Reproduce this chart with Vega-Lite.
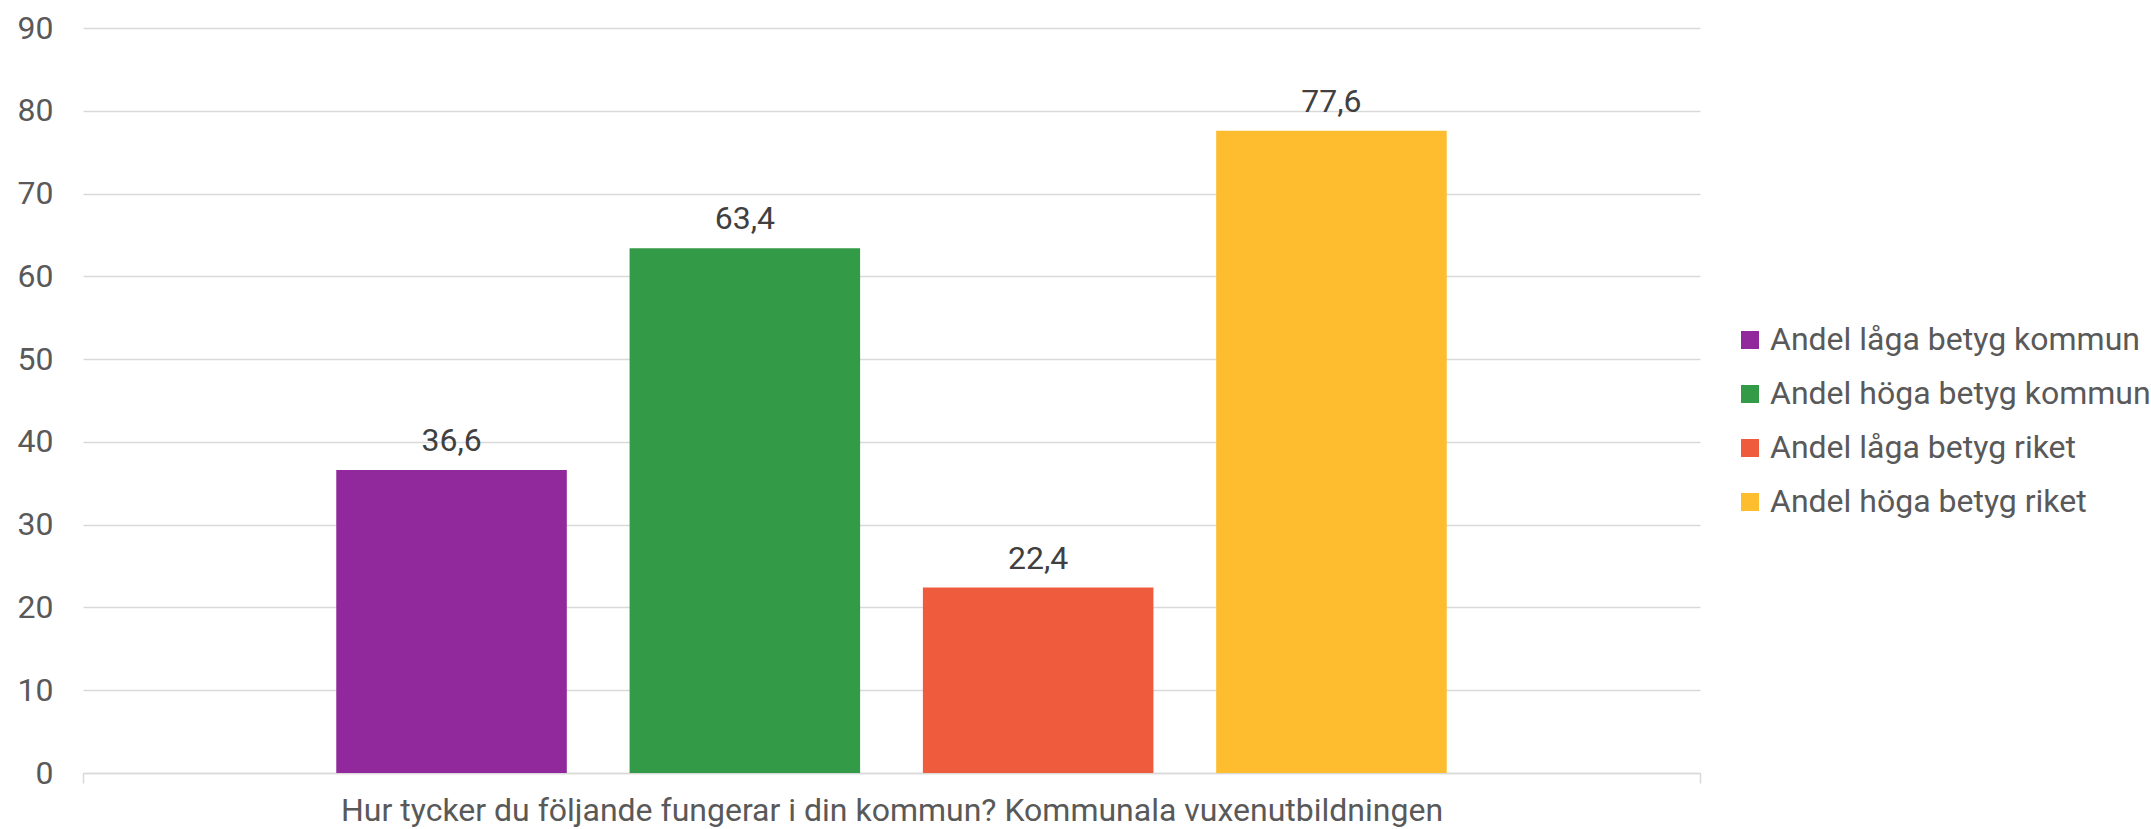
{
  "$schema": "https://vega.github.io/schema/vega-lite/v6.json",
  "autosize": "none",
  "width": 1617,
  "height": 745,
  "padding": {"left": 83, "top": 28, "right": 451, "bottom": 56},
  "background": "white",
  "data": {
    "values": [
      {"question": "Hur tycker du följande fungerar i din kommun? Kommunala vuxenutbildningen", "series": "Andel låga betyg kommun", "value": 36.6, "label": "36,6"},
      {"question": "Hur tycker du följande fungerar i din kommun? Kommunala vuxenutbildningen", "series": "Andel höga betyg kommun", "value": 63.4, "label": "63,4"},
      {"question": "Hur tycker du följande fungerar i din kommun? Kommunala vuxenutbildningen", "series": "Andel låga betyg riket", "value": 22.4, "label": "22,4"},
      {"question": "Hur tycker du följande fungerar i din kommun? Kommunala vuxenutbildningen", "series": "Andel höga betyg riket", "value": 77.6, "label": "77,6"}
    ]
  },
  "config": {
    "font": "Roboto",
    "view": {"stroke": null}
  },
  "encoding": {
    "x": {
      "field": "question",
      "type": "nominal",
      "scale": {"paddingInner": 0, "paddingOuter": 0},
      "axis": {
        "title": null,
        "labelAngle": 0,
        "labelFont": "Roboto",
        "labelFontSize": 32,
        "labelColor": "#595959",
        "labelPadding": 12,
        "labelLimit": 2000,
        "domainColor": "#D9D9D9",
        "domainWidth": 1.5,
        "tickColor": "#D9D9D9",
        "tickWidth": 1.5,
        "tickSize": 10,
        "tickBand": "extent",
        "grid": false
      }
    },
    "xOffset": {
      "field": "series",
      "type": "nominal",
      "sort": ["Andel låga betyg kommun", "Andel höga betyg kommun", "Andel låga betyg riket", "Andel höga betyg riket"],
      "scale": {"paddingInner": 0.214, "paddingOuter": 0.8635}
    },
    "y": {
      "field": "value",
      "type": "quantitative",
      "scale": {"domain": [0, 90], "nice": false},
      "axis": {
        "title": null,
        "values": [0, 10, 20, 30, 40, 50, 60, 70, 80, 90],
        "labelFont": "Roboto",
        "labelFontSize": 32,
        "labelColor": "#595959",
        "labelPadding": 30,
        "ticks": false,
        "tickSize": 0,
        "domain": false,
        "grid": true,
        "gridColor": "#D9D9D9",
        "gridWidth": 1.5
      }
    }
  },
  "layer": [
    {
      "mark": {"type": "bar"},
      "encoding": {
        "color": {
          "field": "series",
          "type": "nominal",
          "sort": ["Andel låga betyg kommun", "Andel höga betyg kommun", "Andel låga betyg riket", "Andel höga betyg riket"],
          "scale": {
            "domain": ["Andel låga betyg kommun", "Andel höga betyg kommun", "Andel låga betyg riket", "Andel höga betyg riket"],
            "range": ["#91289B", "#339B47", "#EF5B3D", "#FEBC2F"]
          },
          "legend": {
            "title": null,
            "orient": "none",
            "legendX": 1651,
            "legendY": 296,
            "padding": 0,
            "symbolType": "square",
            "symbolSize": 324,
            "symbolStrokeWidth": 0,
            "labelFont": "Roboto",
            "labelFontSize": 32,
            "labelColor": "#595959",
            "labelLimit": 1000,
            "labelOffset": 4,
            "rowPadding": 22
          }
        }
      }
    },
    {
      "mark": {"type": "text", "font": "Roboto", "fontSize": 32, "color": "#404040", "baseline": "alphabetic", "dy": -19},
      "encoding": {
        "text": {"field": "label"}
      }
    }
  ]
}
